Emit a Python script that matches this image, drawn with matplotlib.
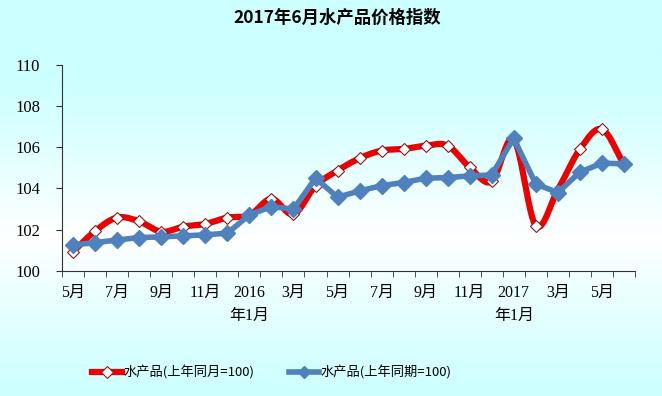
import numpy as np
import matplotlib
matplotlib.use("Agg")
import matplotlib.pyplot as plt
from matplotlib.lines import Line2D

plt.rcParams['font.family'] = ['Liberation Serif', 'Noto Sans CJK SC', 'DejaVu Sans']

# 2015年5月 ... 2017年6月
months = ["5月", "6月", "7月", "8月", "9月", "10月", "11月", "12月",
          "2016\n年1月", "2月", "3月", "4月", "5月", "6月", "7月", "8月",
          "9月", "10月", "11月", "12月", "2017\n年1月", "2月", "3月", "4月",
          "5月", "6月"]
same_month = [100.94, 101.94, 102.59, 102.40, 101.90, 102.15, 102.28, 102.59,
              102.70, 103.50, 102.75, 104.13, 104.87, 105.47, 105.84, 105.92,
              106.08, 106.08, 105.03, 104.34, 106.39, 102.20, 103.93, 105.90,
              106.88, 105.19]
same_period = [101.26, 101.37, 101.50, 101.62, 101.65, 101.70, 101.75, 101.83,
               102.72, 103.12, 103.00, 104.50, 103.58, 103.88, 104.14, 104.29,
               104.50, 104.53, 104.61, 104.66, 106.44, 104.22, 103.80, 104.79,
               105.23, 105.20]
label1 = "水产品(上年同月=100)"
label2 = "水产品(上年同期=100)"


def smooth(x, y, n=20):
    # Catmull-Rom style smoothing like the spreadsheet "smoothed line"
    x = np.asarray(x, float)
    y = np.asarray(y, float)
    px = np.concatenate([[2 * x[0] - x[1]], x, [2 * x[-1] - x[-2]]])
    py = np.concatenate([[2 * y[0] - y[1]], y, [2 * y[-1] - y[-2]]])
    xs, ys = [], []
    t = np.linspace(0, 1, n, endpoint=False)
    for i in range(1, len(px) - 2):
        p0, p1, p2, p3 = py[i - 1], py[i], py[i + 1], py[i + 2]
        q0, q1, q2, q3 = px[i - 1], px[i], px[i + 1], px[i + 2]
        a = 0.5 * (2 * p1 + (-p0 + p2) * t + (2 * p0 - 5 * p1 + 4 * p2 - p3) * t ** 2
                   + (-p0 + 3 * p1 - 3 * p2 + p3) * t ** 3)
        b = 0.5 * (2 * q1 + (-q0 + q2) * t + (2 * q0 - 5 * q1 + 4 * q2 - q3) * t ** 2
                   + (-q0 + 3 * q1 - 3 * q2 + q3) * t ** 3)
        xs.append(b)
        ys.append(a)
    xs.append([x[-1]])
    ys.append([y[-1]])
    return np.concatenate(xs), np.concatenate(ys)


fig = plt.figure(figsize=(6.62, 3.96), dpi=100)

# background gradient: cyan - white - cyan
bg = fig.add_axes([0, 0, 1, 1], zorder=-10)
yy = np.linspace(0, 1, 400)
w = np.clip(1 - np.abs(yy - 0.40) / 0.42, 0, 1) ** 1.2
cyan = np.array([0.80, 1.0, 1.0])
white = np.array([1.0, 1.0, 1.0])
grad = (cyan[None, :] * (1 - w[:, None]) + white[None, :] * w[:, None])[:, None, :]
bg.imshow(grad, aspect='auto', extent=[0, 1, 0, 1], origin='lower')
bg.axis('off')

ax = fig.add_axes([0.094, 0.316, 0.865, 0.52])
ax.patch.set_alpha(0)
x = np.arange(len(months))

sx, sy = smooth(x, same_month)
ax.plot(sx, sy, color='#ee0000', lw=4.5, solid_capstyle='round', zorder=2)
ax.plot(x, same_month, ls='none', marker='D', ms=6.5, mfc='white',
        mec='#8b1a1a', mew=0.8, zorder=3)
ax.plot(x, same_period, color='#4f81bd', lw=4.0, marker='D', ms=8,
        mfc='#4f81bd', mec='#4f81bd', zorder=4)

ax.set_xlim(-0.5, len(months) - 0.5)
ax.set_ylim(100, 110)
ax.set_yticks(range(100, 111, 2))
ax.set_xticks(x[::2])
ax.set_xticklabels(months[::2], linespacing=1.6)
ax.set_xticks(np.arange(-0.5, len(months), 1), minor=True)
ax.tick_params(axis='x', which='major', length=0, pad=10, labelsize=11.5)
ax.tick_params(axis='x', which='minor', length=4, direction='out', color='#333333')
ax.tick_params(axis='y', length=4, direction='out', labelsize=12, pad=12,
               color='#333333')
for s in ['top', 'right']:
    ax.spines[s].set_visible(False)
for s in ['left', 'bottom']:
    ax.spines[s].set_color('#333333')

fig.text(0.51, 0.955, "2017年6月水产品价格指数", ha='center', va='center',
         fontsize=12.5, fontweight='bold', family=['Noto Sans CJK SC', 'DejaVu Sans'])

h1 = Line2D([], [], color='#ee0000', lw=4.5, marker='D', ms=6, mfc='white',
            mec='#8b1a1a', mew=0.8)
h2 = Line2D([], [], color='#4f81bd', lw=4, marker='D', ms=6.5, mfc='#4f81bd')
fig.legend([h1, h2], [label1, label2], loc='center', bbox_to_anchor=(0.41, 0.06),
           ncol=2, frameon=False, fontsize=10, handlelength=2.3,
           handletextpad=0.1, columnspacing=2.6,
           prop={'family': ['Noto Sans CJK SC', 'DejaVu Sans'], 'size': 9.5})

fig.savefig("out.png", dpi=100)
